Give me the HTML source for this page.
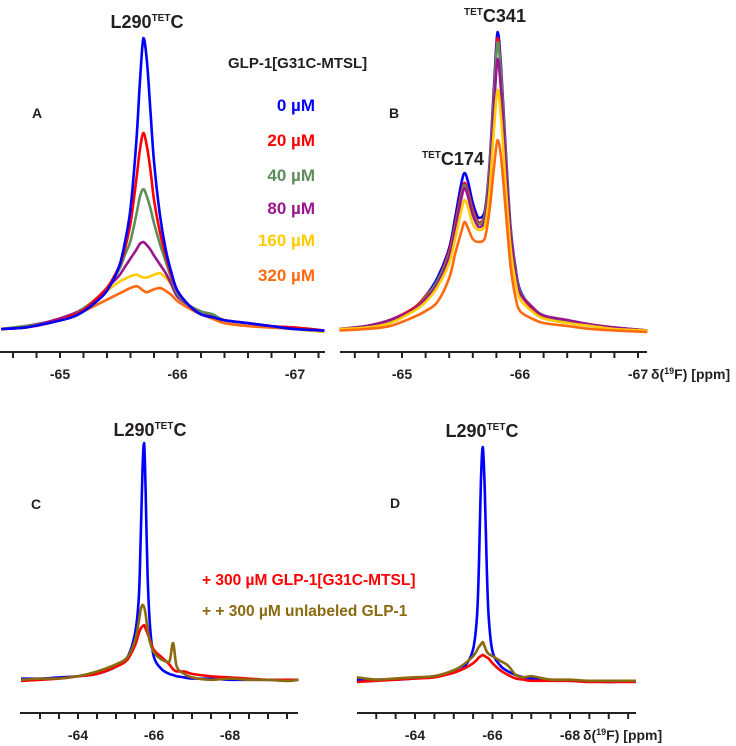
<!DOCTYPE html>
<html><head><meta charset="utf-8"><style>
body{margin:0;background:#fff;}
svg{display:block;font-family:"Liberation Sans",Arial,sans-serif;font-weight:bold;}
</style></head><body>
<svg id="fig" width="736" height="746" viewBox="0 0 736 746"></svg>
<script>
// ---------- DATA ----------
const ppmA = [-64.5,-64.7,-64.9,-65.1,-65.2,-65.3,-65.4,-65.5,-65.55,-65.6,-65.65,-65.68,-65.71,-65.74,-65.77,-65.8,-65.85,-65.9,-65.95,-66.0,-66.1,-66.2,-66.3,-66.4,-66.6,-66.8,-67.0,-67.25];
const aBlue   = [1,1.5,3,5,7,10,14,22,30,42,65,85,100,92,75,58,40,28,20,14,9,6,5,4,3,2,1,0.5];
const aRed    = [1,1.5,3,5.5,7.5,11,15,22,28,37,52,62,67.7,63,55,45,34,26,19,14,9,6,5,4,3,2,1.5,0.5];
const aGreen  = [1,2,3,5.5,8,11,15,21,26,31,40,46,48.6,46,42,37,30,24,18,13,9,7,6,4,3,2,1,0.5];
const aPurple = [1,2,3.5,6,8,11,15,19,22,25,28,30,30.6,29.5,28,26,23,20,16,12,9,7,5.5,4,3,2,1.5,0.5];
const aYellow = [1,1.5,3,5.5,8,11,14,17,18,19,19.5,19,18.5,18.5,19,19.5,20,18.5,16,13,9,6,5,4,3,2,1,0];
const aOrange = [1,1.5,3,5,7,9,11,13,14,15,15.6,15,14,13.5,14,14.5,15,14,12.5,10.5,8,6,4.5,3,2,1.5,1,0.5];

const ppmB = [-64.47,-64.7,-64.9,-65.1,-65.2,-65.3,-65.4,-65.45,-65.5,-65.53,-65.56,-65.6,-65.65,-65.7,-65.74,-65.78,-65.81,-65.84,-65.88,-65.92,-65.96,-66.0,-66.1,-66.2,-66.4,-66.6,-66.8,-67.08];
const bBlue   = [1,2,4,8,12,18,28,38,49,53,50,43,38,40,55,82,100,88,60,35,22,14,8,5,3.5,2,1.5,0.5];
const bRed    = [1,2,4,8,12,17,27,36,46,49.7,47,41,36.5,39,54,80,98,86,58,34,21,13,8,5,3.5,2.5,1.5,0.5];
const bGreen  = [1,2,3.5,7.5,11.5,17,26,35,45,49,46,40,36,38.5,53,79,96.7,85,58,34,21,13.5,8.5,5.5,3.5,2,1,0.5];
const bPurple = [1,2,4,7.5,11,16,25,34,44,48,45,39,35,37,50,75,91,80,55,33,20,13,8.5,5.5,4,2.5,1.5,0.5];
const bYellow = [1,1.5,3,7,10,15,23,31,40,44,41.5,36,34,35,46,68,80.7,71,48,28,17,11,7,4.5,3,2,1,0.5];
const bOrange = [0.5,1,2,5,7,10,18,26,33,36.7,34.5,31,30,31,40,55,64,58,40,22,12,7,4.5,3,2,1,0.5,0];

const ppmC = [-62.5,-63,-63.5,-64,-64.5,-65,-65.3,-65.5,-65.6,-65.65,-65.7,-65.74,-65.78,-65.83,-65.9,-66,-66.2,-66.4,-66.5,-66.6,-66.8,-67,-67.5,-68,-68.5,-69,-69.5,-69.8];
const cBlue  = [1,1,1.5,2,3,6,10,20,35,60,90,100,80,45,22,10,5,3,2.5,2,1.5,1,1,0.5,0.5,0.5,0.5,0.5];
const cRed   = [0,0.5,1,2,3,6,9,15,20,22,23,23.5,22,20,17,13,10,7,5,4,4,3,2,1.5,1,0.5,0.5,0.5];
const cBrown = [0.5,1,1,2,4,7,10,17,25,30,32,31,28,22,16,12,9,8,16,6,3,1.5,0.5,1,0.5,0.5,0,0.5];

const ppmD = [-62.5,-63,-63.5,-64,-64.5,-65,-65.3,-65.5,-65.6,-65.65,-65.7,-65.75,-65.8,-65.85,-65.9,-66,-66.2,-66.4,-66.6,-66.8,-67,-67.5,-68,-68.5,-69,-69.7];
const dBlue  = [1,1,1,1.5,2.5,4,7,14,28,50,85,100,82,50,28,13,7,4.5,3,2,1.5,1,0.5,0.5,0,0.5];
const dRed   = [0,0.5,1,1.5,2,4,6,8,9.5,10.5,11,11.5,11,10.5,10,8,5,3,1.5,1,0.5,0.5,0.5,0,0,0];
const dBrown = [2,1,1.5,2,2.5,5,8,11,13.5,15,16,17,15,13,12,11,9,7,3,2,2.5,1,1,0.5,0.5,0.5];

const ticksAB = [-65,-66,-67];
const ticksCD = [-64,-66,-68];
const legendLabels = ["0 µM","20 µM","40 µM","80 µM","160 µM","320 µM"];

// ---------- DRAW ----------
const svg = document.getElementById('fig');
const NS = 'http://www.w3.org/2000/svg';
function mk(tag, attrs, parent){ const e=document.createElementNS(NS,tag); for(const k in attrs) e.setAttribute(k,attrs[k]); (parent||svg).appendChild(e); return e; }
function lin(d0,d1,r0,r1){ return v => r0 + (v-d0)/(d1-d0)*(r1-r0); }
function clamp(v,a,b){ const lo=Math.min(a,b), hi=Math.max(a,b); return Math.max(lo,Math.min(hi,v)); }
function smooth(pts){
  let d='M'+pts[0][0].toFixed(2)+','+pts[0][1].toFixed(2);
  for(let i=0;i<pts.length-1;i++){
    const p0=pts[Math.max(0,i-1)],p1=pts[i],p2=pts[i+1],p3=pts[Math.min(pts.length-1,i+2)];
    const c1=[p1[0]+(p2[0]-p0[0])/6, clamp(p1[1]+(p2[1]-p0[1])/6,p1[1],p2[1])];
    const c2=[p2[0]-(p3[0]-p1[0])/6, clamp(p2[1]-(p3[1]-p1[1])/6,p1[1],p2[1])];
    d+=`C${c1[0].toFixed(2)},${c1[1].toFixed(2)} ${c2[0].toFixed(2)},${c2[1].toFixed(2)} ${p2[0].toFixed(2)},${p2[1].toFixed(2)}`;
  }
  return d;
}
function panel(cfg){
  const g = mk('g',{});
  
  
  const x = lin(cfg.p0,cfg.p1,cfg.x0,cfg.x1);
  const y = lin(0,100,cfg.base,cfg.top);
  cfg.series.forEach(s=>{
    const pts = cfg.ppm.map((p,i)=>[x(p), y(s.v[i])]);
    const path = mk('path',{d:smooth(pts),fill:'none',stroke:s.c,'stroke-width':cfg.sw,'stroke-linejoin':'round'},g);
    
    
  });
  const ax = mk('line',{x1:cfg.ax0,x2:cfg.ax1,y1:cfg.ay,y2:cfg.ay,stroke:'#222','stroke-width':2},g);
  
  
  for(let p=cfg.tickStart; p>=cfg.p1-2; p-=cfg.minor){
    const xx=x(p); if(xx<cfg.ax0+2||xx>cfg.ax1) continue;
    mk('line',{x1:xx,x2:xx,y1:cfg.ay,y2:cfg.ay+6,stroke:'#222','stroke-width':2},g);
  }
  cfg.ticks.forEach(t=>{
    const tx = mk('text',{x:x(t),y:cfg.ay+27,'text-anchor':'middle','font-size':14,fill:'#222'},g);
    tx.textContent = String(t);
    
    
  });
  return g;
}
panel({name:'panel-a',ppm:ppmA,p0:-65,p1:-67,x0:60,x1:295,base:332,top:38,sw:2.6,ax0:0,ax1:325,ay:352,tickStart:-64.6,minor:0.2,ticks:ticksAB,
  series:[{n:'series-320uM',c:'#ff6a10',v:aOrange},{n:'series-160uM',c:'#ffcc00',v:aYellow},{n:'series-80uM',c:'#99168f',v:aPurple},{n:'series-40uM',c:'#5e8c5a',v:aGreen},{n:'series-20uM',c:'#ff0000',v:aRed},{n:'series-0uM',c:'#0000ff',v:aBlue}]});
panel({name:'panel-b',ppm:ppmB,p0:-65,p1:-67,x0:402,x1:638,base:332,top:32,sw:2.6,ax0:340,ax1:647,ay:352,tickStart:-64.6,minor:0.2,ticks:ticksAB,
  series:[{n:'series-0uM',c:'#0000ff',v:bBlue},{n:'series-20uM',c:'#ff0000',v:bRed},{n:'series-40uM',c:'#5e8c5a',v:bGreen},{n:'series-80uM',c:'#99168f',v:bPurple},{n:'series-160uM',c:'#ffcc00',v:bYellow},{n:'series-320uM',c:'#ff6a10',v:bOrange}]});
panel({name:'panel-c',ppm:ppmC,p0:-64,p1:-68,x0:78,x1:230,base:681,top:443,sw:2.6,ax0:20,ax1:298,ay:713,tickStart:-62.5,minor:0.5,ticks:ticksCD,
  series:[{n:'series-apo',c:'#0000ff',v:cBlue},{n:'series-mtsl',c:'#ff0000',v:cRed},{n:'series-unlabeled',c:'#8a6a10',v:cBrown}]});
panel({name:'panel-d',ppm:ppmD,p0:-64,p1:-68,x0:415,x1:570,base:682,top:447,sw:2.6,ax0:357,ax1:636,ay:713,tickStart:-62.5,minor:0.5,ticks:ticksCD,
  series:[{n:'series-apo',c:'#0000ff',v:dBlue},{n:'series-mtsl',c:'#ff0000',v:dRed},{n:'series-unlabeled',c:'#8a6a10',v:dBrown}]});

// legend A
const legColors=['#0000ff','#ff0000','#5e8c5a','#99168f','#ffcc00','#ff6a10'];
const legY=[111,146,181,214,246,281];
legendLabels.forEach((l,i)=>{
  const t=mk('text',{x:315,y:legY[i],'text-anchor':'end','font-size':17,fill:legColors[i]});
  t.textContent=l;
  
  
});
</script>
<svg width="736" height="746" style="position:absolute;left:0;top:0">
<g font-family="Liberation Sans, Arial, sans-serif" font-weight="bold" fill="#231f20">
<text x="147" y="28" text-anchor="middle" font-size="18">L290<tspan font-size="10" dy="-7">TET</tspan><tspan dy="7">C</tspan></text>
<text x="228" y="68" font-size="15">GLP-1[G31C-MTSL]</text>
<text x="32" y="118" font-size="14">A</text>
<text x="389" y="118" font-size="14">B</text>
<text x="495" y="22" text-anchor="middle" font-size="18"><tspan font-size="10" dy="-7">TET</tspan><tspan dy="7">C341</tspan></text>
<text x="453" y="165" text-anchor="middle" font-size="18"><tspan font-size="10" dy="-7">TET</tspan><tspan dy="7">C174</tspan></text>
<text x="651" y="379" font-size="14">δ(<tspan font-size="9" dy="-5">19</tspan><tspan dy="5">F) [ppm]</tspan></text>
<text x="150" y="436" text-anchor="middle" font-size="18">L290<tspan font-size="10" dy="-7">TET</tspan><tspan dy="7">C</tspan></text>
<text x="482" y="437" text-anchor="middle" font-size="18">L290<tspan font-size="10" dy="-7">TET</tspan><tspan dy="7">C</tspan></text>
<text x="31" y="509" font-size="14">C</text>
<text x="390" y="508" font-size="14">D</text>
<text x="202" y="585" font-size="15.5" fill="#ff0000">+ 300 µM GLP-1[G31C-MTSL]</text>
<text x="202" y="616" font-size="15.5" fill="#8a6a10">+ + 300 µM unlabeled GLP-1</text>
<text x="583" y="740" font-size="14">δ(<tspan font-size="9" dy="-5">19</tspan><tspan dy="5">F) [ppm]</tspan></text>
</g></svg>
</body></html>
